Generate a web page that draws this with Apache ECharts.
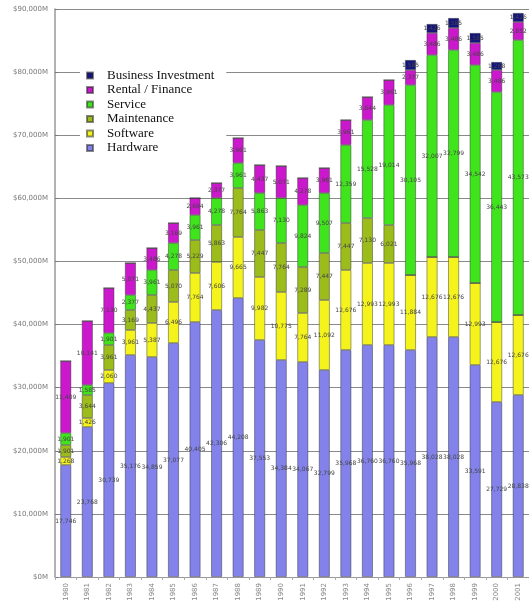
<!DOCTYPE html>
<html>
<head>
<meta charset="utf-8">
<script src="https://cdn.jsdelivr.net/npm/echarts@6/dist/echarts.min.js"></script>
<style>
  html, body { margin: 0; padding: 0; background: #fff; }
  #chart { width: 529px; height: 610px; }
</style>
</head>
<body>
<div id="chart"></div>
<script>
// Spending by category, $M per period
const categories = ['1980','1981','1982','1983','1984','1985','1986','1987','1988','1989','1990',
                    '1991','1992','1993','1994','1995','1996','1997','1998','1999','2000','2001'];

const hardware    = [17746, 23768, 30739, 35176, 34859, 37077, 40405, 42306, 44208, 37553, 34384,
                     34067, 32799, 35968, 36760, 36760, 35968, 38028, 38028, 33591, 27729, 28838];
const software    = [1268, 1426, 2060, 3961, 5387, 6496, 7764, 7606, 9665, 9982, 10775,
                     7764, 11092, 12676, 12993, 12993, 11884, 12676, 12676, 12993, 12676, 12676];
const maintenance = [1901, 3644, 3961, 3169, 4437, 5070, 5229, 5863, 7764, 7447, 7764,
                     7289, 7447, 7447, 7130, 6021, 0, 0, 0, 0, 0, 0];
const service     = [1901, 1585, 1901, 2377, 3961, 4278, 3961, 4278, 3961, 5863, 7130,
                     9824, 9507, 12359, 15528, 19014, 30105, 32007, 32799, 34542, 36443, 43573];
const rental      = [11409, 10141, 7130, 5071, 3486, 3169, 2694, 2377, 3961, 4437, 5071,
                     4278, 3961, 3961, 3644, 3961, 2377, 3486, 3486, 3486, 3486, 2852];
const business    = [0, 0, 0, 0, 0, 0, 0, 0, 0, 0, 0,
                     0, 0, 0, 0, 0, 1585, 1426, 1585, 1585, 1268, 1426];

const yTicks = { min: 0, max: 90000, interval: 10000 };

const seriesDefs = [
  { name: 'Hardware',            data: hardware,    color: '#8282ea' },
  { name: 'Software',            data: software,    color: '#f4f41c' },
  { name: 'Maintenance',         data: maintenance, color: '#9cbc1c' },
  { name: 'Service',             data: service,     color: '#40e41c' },
  { name: 'Rental / Finance',    data: rental,      color: '#cc18cc' },
  { name: 'Business Investment', data: business,    color: '#141480' }
];

const chart = echarts.init(document.getElementById('chart'), null, { renderer: 'canvas' });

chart.setOption({
  animation: false,
  backgroundColor: '#ffffff',
  grid: { left: 55, right: -4, top: 9, bottom: 33, containLabel: false },
  legend: {
    orient: 'vertical',
    left: 80, top: 68,
    backgroundColor: '#ffffff',
    padding: [1, 12, 2, 6],
    itemWidth: 6, itemHeight: 6,
    itemGap: 1.5,
    icon: 'rect',
    data: ['Business Investment', 'Rental / Finance', 'Service', 'Maintenance', 'Software', 'Hardware'],
    textStyle: { fontFamily: 'Liberation Serif', fontSize: 13, color: '#111', padding: [0, 0, 0, 9] }
  },
  xAxis: {
    type: 'category',
    data: categories,
    axisLine: { lineStyle: { color: '#999', width: 1 } },
    axisTick: { show: true, length: 3, lineStyle: { color: '#aaa' } },
    axisLabel: { rotate: 90, fontSize: 7, color: '#888', margin: 6, fontFamily: 'DejaVu Sans' }
  },
  yAxis: {
    type: 'value',
    min: yTicks.min, max: yTicks.max, interval: yTicks.interval,
    axisLine: { show: true, lineStyle: { color: '#999', width: 1.5 } },
    axisTick: { show: true, inside: true, length: 3, lineStyle: { color: '#777' } },
    splitLine: { lineStyle: { color: '#8a8a8a', width: 1 } },
    axisLabel: {
      fontSize: 7, color: '#777', margin: 7, fontFamily: 'DejaVu Sans',
      formatter: v => '$' + v.toLocaleString('en-US') + 'M'
    }
  },
  series: seriesDefs.map(s => ({
    name: s.name,
    type: 'bar',
    stack: 'total',
    barWidth: 11,
    data: s.data,
    itemStyle: { color: s.color, borderColor: 'rgba(40,40,40,0.55)', borderWidth: 0.8 },
    label: {
      show: true,
      position: 'inside',
      fontSize: 6,
      color: '#444',
      fontFamily: 'DejaVu Sans',
      formatter: p => (p.value ? p.value.toLocaleString('en-US') : '')
    }
  }))
});
</script>
</body>
</html>
